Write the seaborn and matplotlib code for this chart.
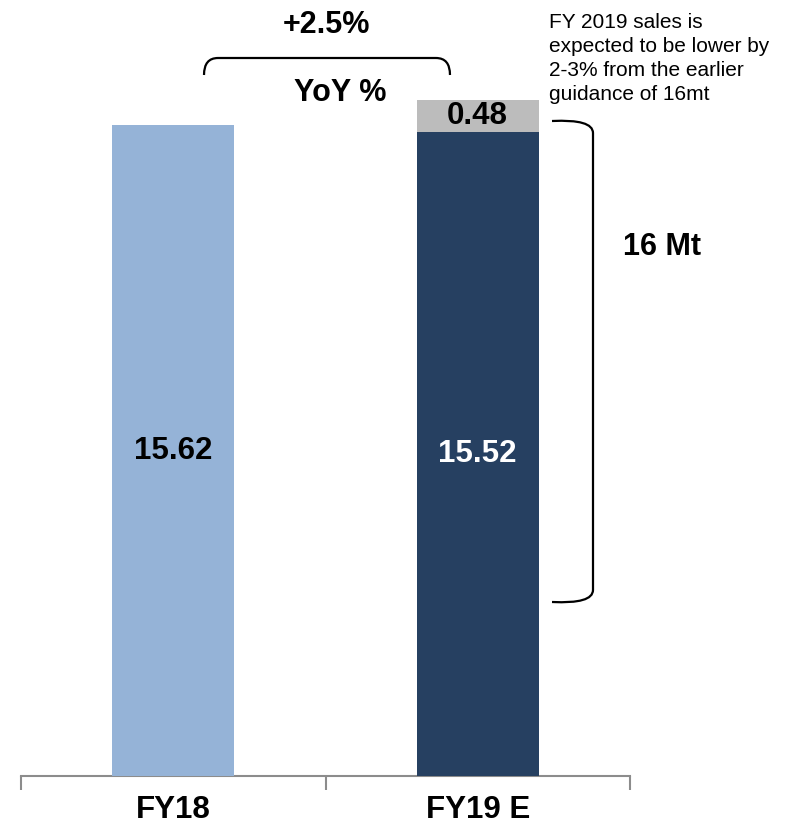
import matplotlib
matplotlib.use("Agg")
import matplotlib.pyplot as plt
from matplotlib.path import Path
from matplotlib.patches import PathPatch
import seaborn as sns
import pandas as pd

categories = ["FY18", "FY19 E"]
base_values = [15.62, 15.52]
shortfall_values = [0.0, 0.48]
bar_colors = ["#95B3D7", "#264061"]
gap_color = "#BCBCBC"

sns.set_theme(style="white")
plt.rcParams["font.family"] = ["Liberation Sans", "DejaVu Sans"]
plt.rcParams["text.color"] = "black"
plt.rcParams["xtick.color"] = "black"

df = pd.DataFrame({
    "cat": categories,
    "base": base_values,
    "total": [b + s for b, s in zip(base_values, shortfall_values)],
})

fig = plt.figure(figsize=(7.9, 8.33), dpi=100)
ax = fig.add_axes([21 / 790, (833 - 776) / 833, (630 - 21) / 790, 776 / 833])

sns.barplot(data=df, x="cat", y="total", color=gap_color, width=0.4, ax=ax,
            saturation=1, zorder=2, linewidth=0, edgecolor="none")
sns.barplot(data=df, x="cat", y="base", hue="cat", palette=bar_colors,
            width=0.4, ax=ax, saturation=1, legend=False, zorder=3,
            linewidth=0, edgecolor="none")

ax.set_xlim(-0.5, 1.5)
ax.set_ylim(5.73, 17.52)
ax.set_xlabel("")
ax.set_ylabel("")
ax.set_yticks([])
for s in ["top", "right", "left"]:
    ax.spines[s].set_visible(False)
ax.spines["bottom"].set_color("#8C8C8C")
ax.spines["bottom"].set_linewidth(1.5)

ax.set_xticks([0, 1])
ax.set_xticklabels(categories, fontsize=22.5, fontweight="bold", color="black")
ax.set_xticks([-0.5, 0.5, 1.5], minor=True)
ax.tick_params(axis="x", which="major", length=0, pad=14)
ax.tick_params(axis="x", which="minor", length=10, width=1.5,
               color="#8C8C8C", direction="out", bottom=True)

ybot = ax.get_ylim()[0]
for i, (b, s) in enumerate(zip(base_values, shortfall_values)):
    col = "black" if i == 0 else "white"
    ax.text(i, (ybot + b) / 2, f"{b:.2f}", ha="center", va="center",
            fontsize=22.5, fontweight="bold", color=col, zorder=5)
    if s > 0:
        ax.text(i, b + s / 2, f"{s:.2f}", ha="center", va="center",
                fontsize=22.5, fontweight="bold", color="black", zorder=5)

# overlay for annotations in pixel space
ov = fig.add_axes([0, 0, 1, 1], zorder=10)
ov.set_xlim(0, 790)
ov.set_ylim(833, 0)
ov.axis("off")
ov.patch.set_alpha(0)

r = 14
top_br = Path(
    [(204, 75), (204, 58), (204 + r, 58), (450 - r, 58), (450, 58), (450, 75)],
    [Path.MOVETO, Path.CURVE3, Path.CURVE3, Path.LINETO, Path.CURVE3, Path.CURVE3])
ov.add_patch(PathPatch(top_br, fill=False, lw=1.6, color="black"))

right_br = Path(
    [(552, 121), (593, 119), (593, 133), (593, 590), (593, 604), (552, 602)],
    [Path.MOVETO, Path.CURVE3, Path.CURVE3, Path.LINETO, Path.CURVE3, Path.CURVE3])
ov.add_patch(PathPatch(right_br, fill=False, lw=1.6, color="black"))

ov.text(326, 21, "+2.5%", ha="center", va="center_baseline", fontsize=22,
        fontweight="bold")
ov.text(340, 89, "YoY %", ha="center", va="center_baseline", fontsize=22,
        fontweight="bold")
ov.text(623, 243, "16 Mt", ha="left", va="center_baseline", fontsize=22,
        fontweight="bold")
ov.text(549, 13, "FY 2019 sales is\nexpected to be lower by\n2-3% from the earlier\nguidance of 16mt",
        ha="left", va="top", fontsize=15, linespacing=1.33)

fig.savefig("out.png", dpi=100)
